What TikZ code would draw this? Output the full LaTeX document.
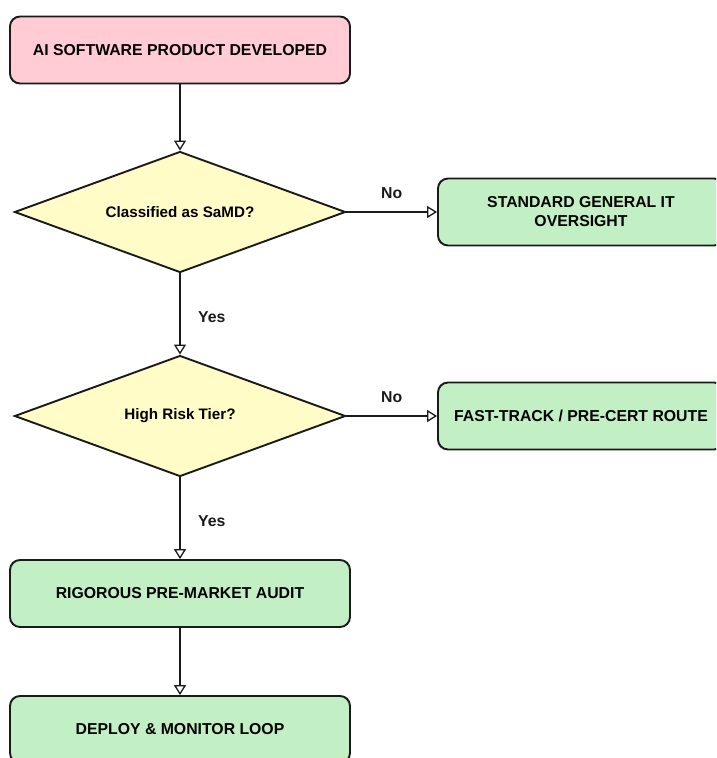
\documentclass[tikz,border=0pt]{standalone}
\usepackage{fontspec}
\setmainfont{Liberation Sans}
\usetikzlibrary{shapes.geometric,arrows.meta}
\definecolor{startpink}{RGB}{255,204,213}
\definecolor{stepgreen}{RGB}{194,240,196}
\definecolor{askyellow}{RGB}{255,252,200}
\definecolor{inkline}{RGB}{26,26,26}
\tikzset{
  box/.style={draw=inkline, line width=1.9pt, rounded corners=10pt,
    minimum height=67pt, align=center, inner sep=4pt,
    font=\bfseries\fontsize{15.8}{19}\selectfont},
  startbox/.style={box, fill=startpink, minimum width=340pt},
  leftbox/.style={box, fill=stepgreen, minimum width=340pt},
  sidebox/.style={box, fill=stepgreen, minimum width=286pt},
  ask/.style={diamond, draw=inkline, line width=1.9pt, fill=askyellow,
    shape aspect=2.7, minimum width=331pt, minimum height=121pt, inner sep=0pt,
    font=\bfseries\fontsize{15.2}{18}\selectfont},
  flow/.style={draw=inkline, line width=1.8pt,
    -{Triangle[length=10pt,width=12pt,fill=white,line width=1.3pt]}},
  tag/.style={font=\bfseries\fontsize{15.8}{19}\selectfont, text=inkline}
}
\begin{document}
\begin{tikzpicture}[x=1pt,y=-1pt]
  \useasboundingbox (0,0) rectangle (716,758);
  \clip (0,0) rectangle (716,758);
  % main column
  \node[startbox] (start) at (180,50) {AI SOFTWARE PRODUCT DEVELOPED};
  \node[ask] (samd) at (180,212) {Classified as SaMD?};
  \node[ask] (risk) at (180,416) {High Risk Tier?};
  \node[leftbox] (audit) at (180,593.5) {RIGOROUS PRE-MARKET AUDIT};
  \node[leftbox] (deploy) at (180,729.5) {DEPLOY \& MONITOR LOOP};
  % side branches
  \node[sidebox] (general) at (581,212) {STANDARD GENERAL IT\\OVERSIGHT};
  \node[sidebox] (fast) at (581,416) {FAST-TRACK / PRE-CERT ROUTE};
  % connectors
  \draw[flow] (start) -- (samd);
  \draw[flow] (samd) -- node[tag, right=14pt, yshift=-3pt] {Yes} (risk);
  \draw[flow] (risk) -- node[tag, right=14pt, yshift=-3pt] {Yes} (audit);
  \draw[flow] (audit) -- (deploy);
  \draw[flow] (samd.east) -- node[tag, above=9pt] {No} (general.west);
  \draw[flow] (risk.east) -- node[tag, above=9pt] {No} (fast.west);
\end{tikzpicture}
\end{document}
